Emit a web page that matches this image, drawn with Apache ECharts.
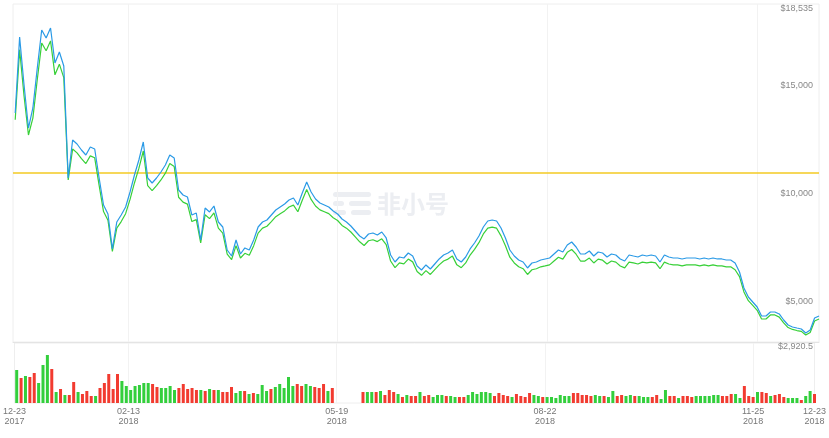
<!DOCTYPE html>
<html><head><meta charset="utf-8">
<script src="https://cdn.jsdelivr.net/npm/echarts@6/dist/echarts.min.js"></script>
<style>html,body{margin:0;padding:0;background:#fff}#c{width:829px;height:438px}</style>
</head><body><div id="c"></div>
<script>
// ---- data ----
const startDate = '2017-12-23';
const endDate = '2018-12-23';
const tickLabels = ['2017-12-23','2018-02-13','2018-05-19','2018-08-22','2018-11-25','2018-12-23'];
const priceTicks = [2920.5, 5000, 10000, 15000, 18535];
const priceMin = 2920.5;
const priceMax = 18535;
const refLine = 10728;

const priceA = [
13500,17010,14794,12806,13731,15579,17333,16964,17426,15809,
16317,15671,10497,12253,12068,11791,11559,11929,11837,10497,
9250,8834,7218,8465,8788,9157,9850,10636,11329,12160,
10497,10266,10497,10774,11097,11559,11421,9942,9712,9619,
8788,8880,7633,9111,8927,9204,8465,8233,7171,6893,
7633,6986,7264,7171,7633,8233,8465,8556,8788,9018,
9157,9296,9480,9573,9250,9804,10312,9850,9527,9342,
9250,9157,8972,8834,8603,8465,8280,8049,7817,7680,
7910,7956,7864,8003,7726,6940,6617,6848,6802,7032,
6893,6432,6247,6479,6293,6524,6756,6940,7032,7171,
6756,6617,6848,7218,7494,7817,8233,8511,8556,8511,
8187,7726,7171,6893,6709,6617,6340,6570,6617,6709,
6756,6802,6986,7171,7079,7402,7541,7309,6986,6986,
7125,6893,7079,7032,6848,6986,6940,6756,6663,6940,
6893,6848,6940,6893,6940,6893,6617,6940,6848,6802,
6802,6756,6802,6802,6802,6756,6802,6756,6802,6756,
6756,6709,6709,6570,6155,5416,5000,4768,4538,4122,
4122,4307,4307,4215,3937,3706,3614,3567,3521,3337,
3476,4030,4122];

const priceB = [
13184,16425,14287,12484,13263,15046,16730,16376,16829,15262,
15755,15134,10406,11834,11657,11391,11164,11519,11430,10159,
8948,8544,7105,8179,8484,8849,9509,10268,10938,11745,
10140,9913,10140,10406,10721,11164,11026,9608,9381,9292,
8484,8573,7499,8800,8622,8888,8179,7952,6977,6731,
7371,6800,7017,6928,7371,7952,8179,8268,8484,8711,
8849,8977,9154,9243,8938,9470,9962,9509,9204,9026,
8938,8849,8662,8534,8307,8179,8002,7775,7549,7380,
7597,7646,7558,7686,7420,6661,6356,6573,6533,6750,
6622,6179,6001,6218,6041,6267,6484,6661,6750,6888,
6484,6356,6573,6937,7203,7509,7912,8178,8228,8178,
7823,7370,6838,6572,6395,6306,6040,6257,6306,6395,
6434,6483,6661,6838,6749,7064,7193,6976,6661,6661,
6798,6572,6749,6700,6523,6661,6611,6434,6345,6611,
6572,6523,6611,6572,6611,6572,6306,6611,6523,6483,
6483,6434,6483,6483,6483,6434,6483,6434,6483,6434,
6434,6395,6395,6257,5943,5233,4829,4613,4386,3982,
3982,4169,4169,4071,3805,3588,3500,3450,3411,3243,
3362,3894,3982];

const volume = [
33,25,27,26,30,20,38,48,34,11,
14,8,8,21,11,9,12,7,7,15,
20,29,14,29,22,17,13,17,18,20,
20,19,16,15,15,17,13,15,19,14,
15,13,13,12,14,13,13,11,11,16,
10,12,12,9,10,9,18,12,14,16,
19,15,26,17,19,17,19,17,16,15,
19,12,15,null,null,null,null,null,null,11,
11,11,11,12,8,13,11,9,6,8,
7,7,11,7,8,6,8,8,7,7,
6,6,6,8,11,9,11,11,10,7,
10,8,7,6,9,7,6,10,8,7,
6,6,6,5,8,7,7,10,10,8,
8,7,8,7,7,6,12,7,8,7,
8,7,7,6,6,6,8,4,13,7,
7,5,7,7,6,7,7,7,7,8,
8,7,7,9,9,5,17,7,6,11,
11,10,7,8,9,6,5,5,5,3,
7,12,9];

const volumeDir = ('grgrrgggrg' + 'rgrrgrrrgr' + 'rrrrgggggg' + 'grrggggrrr' + 'rrgrgrgrrr' +
  'ggrgrgggrg' + 'ggggrrggrr' + 'rgr------r' + 'ggrgrrrgrg' + 'rrgrrgggrg' +
  'grrggggggr' + 'rrrgrrrrgg' + 'rggggggrrr' + 'rrggrggrrg' + 'grgggrrggr' +
  'rgrrrggggg' + 'grrrggrrrg' + 'rrgrrrgggr' + 'ggr').split('');

// ---- build ----
const DAY = 86400000;
const t0 = Date.parse(startDate + 'T00:00:00Z');
const t1 = Date.parse(endDate + 'T00:00:00Z');
const cats = [];
for (let t = t0; t <= t1; t += DAY) cats.push(new Date(t).toISOString().slice(0, 10));
// one sample every two days, the first one day after the start
const pointDates = priceA.map((_, i) => new Date(t0 + (2 * i + 1) * DAY).toISOString().slice(0, 10));
const catIndex = {};
cats.forEach((c, i) => { catIndex[c] = i; });
function spread(arr) {
  const out = new Array(cats.length).fill(null);
  arr.forEach((v, i) => { out[catIndex[pointDates[i]]] = v; });
  return out;
}
const tickSet = new Set(tickLabels);
const isTick = (idx, val) => tickSet.has(val);
const innerTick = (idx, val) => tickSet.has(val) && idx !== 0 && idx !== cats.length - 1;

const RED = '#f23b30', GREEN = '#33cf3c';
const volItems = spread(volume.map((v, i) => v == null ? null : {
  value: v, itemStyle: { color: volumeDir[i] === 'g' ? GREEN : RED }
}));

const FONT = 'Liberation Sans, Arial, sans-serif';
const watermark = [
  { type: 'group', left: 333, top: 192, silent: true, z: 0, children: [
    { type: 'rect', shape: { x: 0, y: 0, width: 38, height: 5, r: 2.5 }, style: { fill: '#eceef2' } },
    { type: 'rect', shape: { x: 0, y: 9, width: 11, height: 5, r: 2.5 }, style: { fill: '#eceef2' } },
    { type: 'rect', shape: { x: 16, y: 9, width: 22, height: 5, r: 2.5 }, style: { fill: '#eceef2' } },
    { type: 'rect', shape: { x: 0, y: 18, width: 13, height: 5, r: 2.5 }, style: { fill: '#eceef2' } },
    { type: 'rect', shape: { x: 18, y: 18, width: 20, height: 5, r: 2.5 }, style: { fill: '#eceef2' } }
  ]},
  { type: 'text', left: 377, top: 192, silent: true, z: 0,
    style: { text: '非小号', fontSize: 24, fontWeight: 'bold', fill: '#eceef2', fontFamily: 'Noto Sans CJK SC' } }
];
const chart = echarts.init(document.getElementById('c'), null, { renderer: 'canvas' });
chart.setOption({
  animation: false,
  backgroundColor: '#ffffff',
  graphic: watermark,
  grid: [
    { left: 13, right: 10, top: 4, height: 338, show: true, borderColor: '#eeeeee', borderWidth: 1, containLabel: false },
    { left: 13, right: 10, top: 343, height: 60, show: true, borderColor: '#eeeeee', borderWidth: 1, containLabel: false }
  ],
  xAxis: [
    { type: 'category', gridIndex: 0, data: cats, boundaryGap: false,
      axisLine: { show: true, lineStyle: { color: '#e4e4e4', width: 1 } },
      axisTick: { show: false }, axisLabel: { show: false },
      splitLine: { show: true, interval: innerTick, lineStyle: { color: '#f2f2f2', width: 1 } } },
    { type: 'category', gridIndex: 1, data: cats, boundaryGap: false,
      axisLine: { show: false }, axisTick: { show: false },
      axisLabel: { show: true, interval: isTick, color: '#777', fontSize: 9, lineHeight: 10, margin: 4, fontFamily: FONT,
        formatter: v => v.slice(5) + '\n' + v.slice(0, 4) },
      splitLine: { show: true, interval: innerTick, lineStyle: { color: '#f2f2f2', width: 1 } } }
  ],
  yAxis: [
    { type: 'value', gridIndex: 0, position: 'right', min: priceMin, max: priceMax, splitNumber: 3,
      axisLine: { show: false }, axisTick: { show: false }, splitLine: { show: false },
      axisLabel: { inside: true, customValues: priceTicks, showMinLabel: true, showMaxLabel: true,
        verticalAlign: 'top', margin: 6, color: '#888', fontSize: 9, fontFamily: FONT,
        formatter: v => '$' + v.toLocaleString('en-US') } },
    { type: 'value', gridIndex: 1, min: 0, max: 60,
      axisLine: { show: false }, axisTick: { show: false }, splitLine: { show: false }, axisLabel: { show: false } }
  ],
  series: [
    { type: 'line', name: 'B', xAxisIndex: 0, yAxisIndex: 0, data: spread(priceB), connectNulls: true,
      symbol: 'none', showSymbol: false, lineStyle: { color: '#38d038', width: 1.2 }, itemStyle: { color: '#38d038' } },
    { type: 'line', name: 'A', xAxisIndex: 0, yAxisIndex: 0, data: spread(priceA), connectNulls: true,
      symbol: 'none', showSymbol: false, lineStyle: { color: '#2a9ae6', width: 1.2 }, itemStyle: { color: '#2a9ae6' } },
    { type: 'bar', name: 'Vol', xAxisIndex: 1, yAxisIndex: 1, data: volItems, barWidth: 3 }
  ]
});
// reference level line, placed through the price axis scale
const refY = chart.convertToPixel({ yAxisIndex: 0 }, refLine);
const xa = chart.convertToPixel({ xAxisIndex: 0 }, cats[0]);
const xb = chart.convertToPixel({ xAxisIndex: 0 }, cats[cats.length - 1]);
chart.setOption({
  graphic: watermark.concat([{ type: 'line', silent: true, z: 3,
    shape: { x1: xa, y1: Math.round(refY), x2: xb, y2: Math.round(refY) },
    style: { stroke: '#f3ca22', lineWidth: 1.4 } }])
});
</script>
</body></html>
